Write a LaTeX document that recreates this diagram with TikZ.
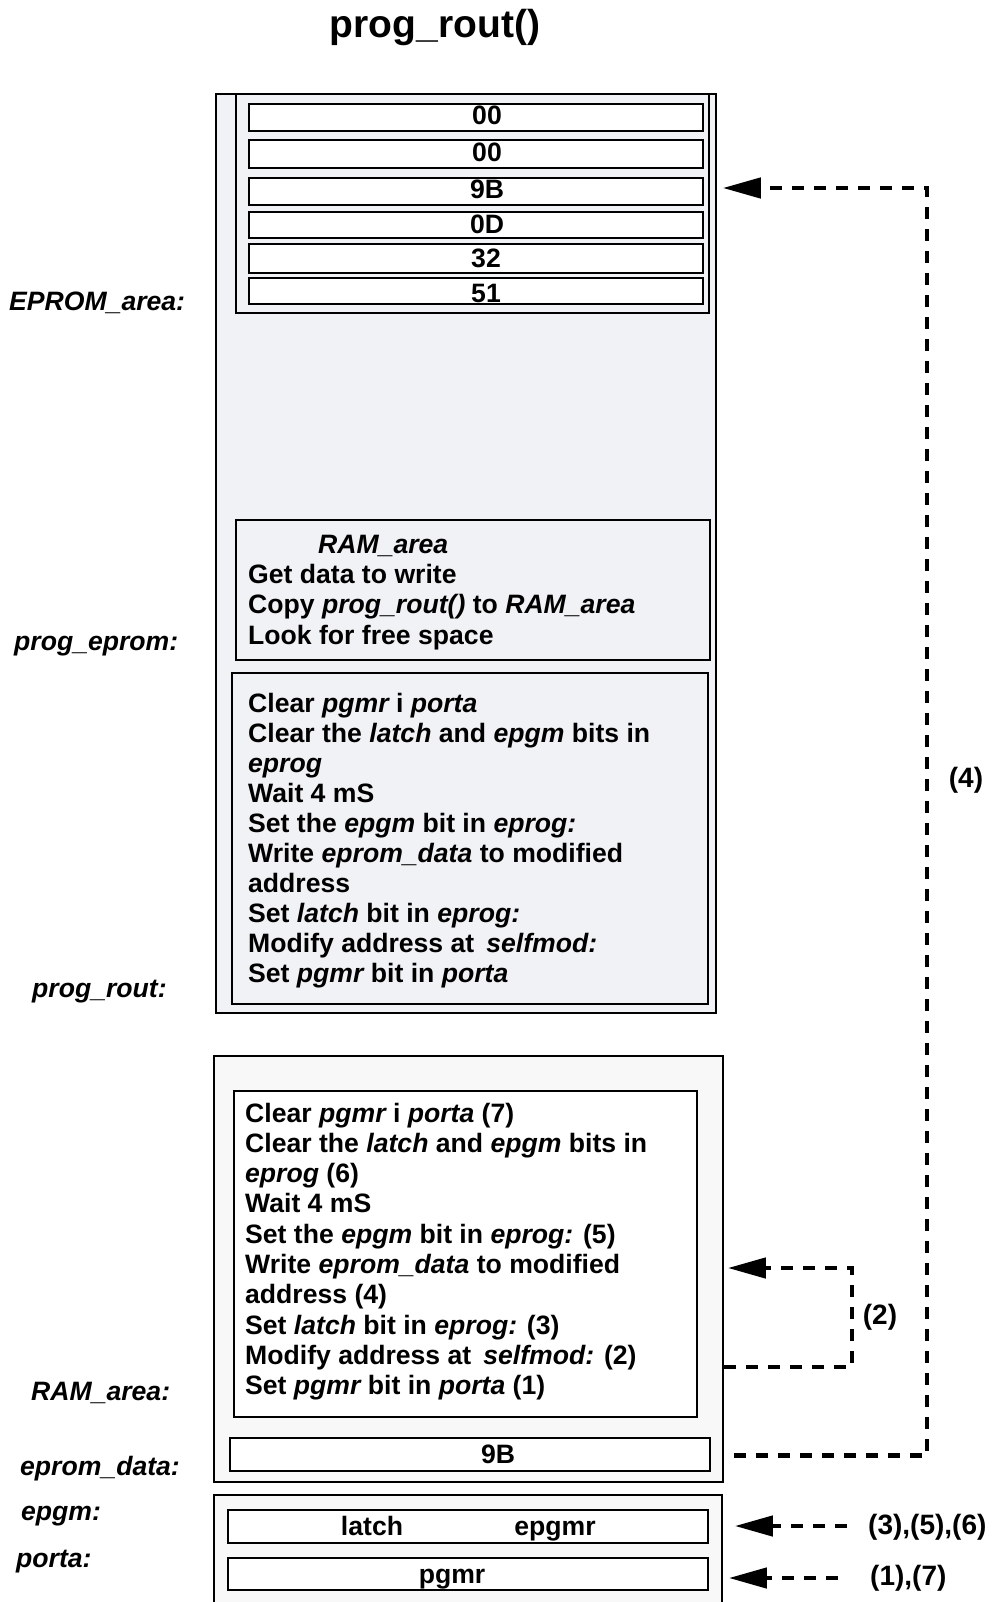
\documentclass[tikz,border=0pt]{standalone}
\usepackage{fontspec}
\setmainfont{Liberation Sans}
\usetikzlibrary{arrows.meta,calc}
\definecolor{epromfill}{RGB}{241,242,245}
\definecolor{ramfill}{RGB}{248,248,248}
\begin{document}
\begin{tikzpicture}[x=1pt,y=-1pt,
  box/.style={draw, line width=1.8pt, inner sep=0pt, anchor=north west},
  cell/.style={draw, line width=2.2pt, fill=white, inner sep=0pt, anchor=north west},
  txt/.style={anchor=base west, inner sep=0pt, font=\fontsize{26.6}{30}\selectfont\bfseries},
  ctxt/.style={anchor=base, inner sep=0pt, font=\fontsize{26.6}{30}\selectfont\bfseries},
  lbl/.style={anchor=base west, inner sep=0pt, font=\fontsize{26.6}{30}\selectfont\bfseries\itshape},
  num/.style={inner sep=0pt, font=\fontsize{28}{30}\selectfont\bfseries},
  conn/.style={line width=4.5pt, dash pattern=on 12pt off 10pt, -{Triangle[length=38pt,width=20pt]}}
]
\useasboundingbox (0,0) rectangle (995,1602);

% title
\node[anchor=base, inner sep=0pt, font=\fontsize{39}{40}\selectfont\bfseries] (title) at (435,38) {prog\_rout()};

% EPROM area
\node[box, fill=epromfill, minimum width=500pt, minimum height=919pt] (eprom) at (215,93) {};
\node[box, fill=epromfill, minimum width=473pt, minimum height=219pt] (mem) at (235,93) {};
\node[cell, minimum width=454pt, minimum height=27pt] (row1) at (248,103) {};
\node[cell, minimum width=454pt, minimum height=28pt] (row2) at (248,139) {};
\node[cell, minimum width=454pt, minimum height=27pt] (row3) at (248,177) {};
\node[cell, minimum width=454pt, minimum height=26pt] (row4) at (248,211) {};
\node[cell, minimum width=454pt, minimum height=29pt] (row5) at (248,243) {};
\node[cell, minimum width=454pt, minimum height=26pt] (row6) at (248,277) {};
\node[ctxt] (v1) at (487,125) {00};
\node[ctxt] (v2) at (487,162) {00};
\node[ctxt] (v3) at (487,199) {9B};
\node[ctxt] (v4) at (487,234) {0D};
\node[ctxt] (v5) at (486,268) {32};
\node[ctxt] (v6) at (486,302) {51};

\node[box, fill=epromfill, minimum width=474pt, minimum height=140pt] (pe) at (235,519) {};
\node[txt] (pe0) at (318,553) {\itshape RAM\_area};
\node[txt] (pe1) at (248,583) {Get data to write};
\node[txt] (pe2) at (248,613) {Copy {\itshape prog\_rout()} to {\itshape RAM\_area}};
\node[txt] (pe3) at (248,644) {Look for free space};

\node[box, fill=epromfill, minimum width=476pt, minimum height=331pt] (pr) at (231,672) {};
\foreach \t [count=\i] in {
  {Clear {\itshape pgmr} i {\itshape porta}},
  {Clear the {\itshape latch} and {\itshape epgm} bits in},
  {{\itshape eprog}},
  {Wait 4 mS},
  {Set the {\itshape epgm} bit in {\itshape eprog:}},
  {Write {\itshape eprom\_data} to modified},
  {address},
  {Set {\itshape latch} bit in {\itshape eprog:}},
  {Modify address at\hspace{12pt}{\itshape selfmod:}},
  {Set {\itshape pgmr} bit in {\itshape porta}}}
  \node[txt] (pr\i) at ({248},{712+30.1*(\i-1)}) {\t};

% RAM area
\node[box, fill=ramfill, minimum width=509pt, minimum height=426pt] (ram) at (213,1055) {};
\node[box, fill=white, minimum width=463pt, minimum height=326pt] (ramtxt) at (233,1090) {};
\foreach \t [count=\i] in {
  {Clear {\itshape pgmr} i {\itshape porta} (7)},
  {Clear the {\itshape latch} and {\itshape epgm} bits in},
  {{\itshape eprog} (6)},
  {Wait 4 mS},
  {Set the {\itshape epgm} bit in {\itshape eprog:} (5)},
  {Write {\itshape eprom\_data} to modified},
  {address (4)},
  {Set {\itshape latch} bit in {\itshape eprog:} (3)},
  {Modify address at\hspace{12pt}{\itshape selfmod:} (2)},
  {Set {\itshape pgmr} bit in {\itshape porta} (1)}}
  \node[txt] (rt\i) at ({245},{1122+30.3*(\i-1)}) {\t};
\node[box, fill=white, minimum width=480pt, minimum height=33pt] (nine) at (229,1437) {};
\node[ctxt] (ninet) at (498,1463) {9B};

% registers
\node[box, fill=ramfill, minimum width=508pt, minimum height=140pt] (regs) at (213,1494) {};
\node[box, fill=white, minimum width=480pt, minimum height=33pt] (latch) at (227,1509) {};
\node[box, fill=white, minimum width=480pt, minimum height=32pt] (pgmr) at (227,1557) {};
\node[ctxt] (latcht) at (372,1535) {latch};
\node[ctxt] (epgmrt) at (555,1535) {epgmr};
\node[ctxt] (pgmrt) at (452,1583) {pgmr};

% left labels
\node[lbl] (l1) at (9,310) {EPROM\_area:};
\node[lbl] (l2) at (14,650) {prog\_eprom:};
\node[lbl] (l3) at (32,997) {prog\_rout:};
\node[lbl] (l4) at (31,1400) {RAM\_area:};
\node[lbl] (l5) at (20,1475) {eprom\_data:};
\node[lbl] (l6) at (21,1520) {epgm:};
\node[lbl] (l7) at (16,1567) {porta:};

% connectors
\coordinate (c4) at (927,188);
\draw[conn] ($(nine.east)+(23,1)$) -| (c4) -- ($(eprom.east |- c4)+(6,0)$);
\node[num] (n4) at (966,780) {(4)};

\coordinate (c2b) at (852,1367);
\coordinate (c2t) at (852,1268);
\draw[conn] (ram.east |- c2b) -- (c2b) -- (c2t) -- ($(ram.east |- c2t)+(4,0)$);
\node[num] (n2) at (880,1317) {(2)};

\coordinate (s3) at (847,1526);
\draw[conn] (s3) -- ($(latch.east |- s3)+(26,0)$);
\node[num, anchor=west] (n3) at (868,1527) {(3),(5),(6)};

\coordinate (s7) at (838,1578);
\draw[conn] (s7) -- ($(pgmr.east |- s7)+(20,0)$);
\node[num, anchor=west] (n7) at (870,1578) {(1),(7)};
\end{tikzpicture}
\end{document}
